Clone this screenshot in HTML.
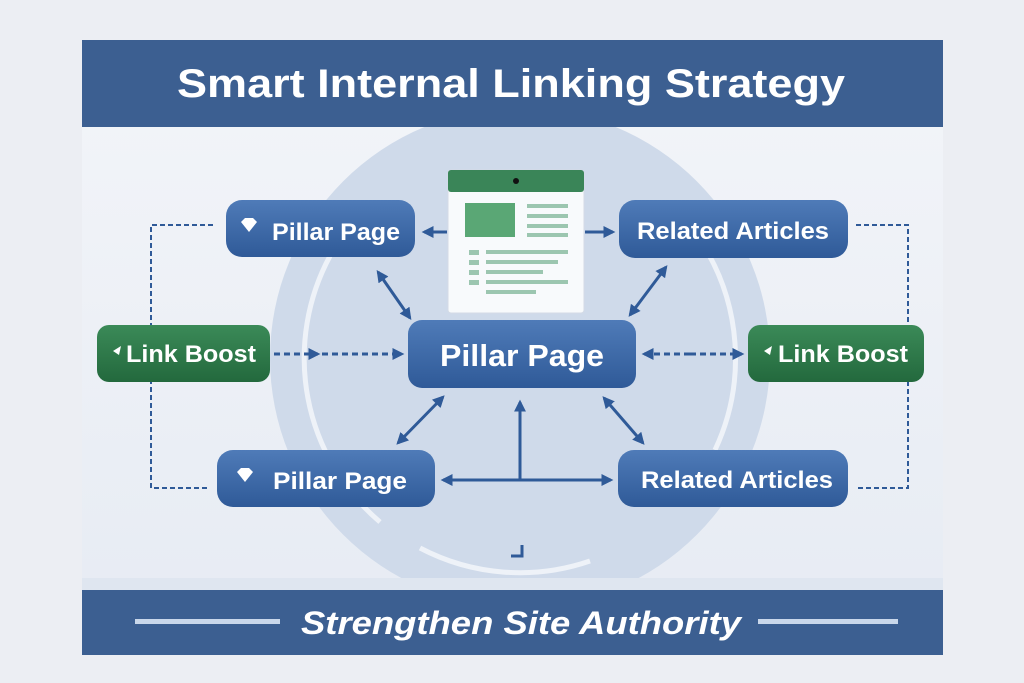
<!DOCTYPE html>
<html><head><meta charset="utf-8"><style>
html,body{margin:0;padding:0;background:#eceef3;}
svg{display:block;font-family:"Liberation Sans",sans-serif;}
</style></head><body>
<svg width="1024" height="683" viewBox="0 0 1024 683" xmlns="http://www.w3.org/2000/svg">
<defs>
<linearGradient id="bl" x1="0" y1="0" x2="0" y2="1"><stop offset="0" stop-color="#4f7bb8"/><stop offset="1" stop-color="#2f5a98"/></linearGradient>
<linearGradient id="gr" x1="0" y1="0" x2="0" y2="1"><stop offset="0" stop-color="#3b8a58"/><stop offset="1" stop-color="#23693d"/></linearGradient>
<linearGradient id="bg" x1="0" y1="0" x2="0" y2="1"><stop offset="0" stop-color="#f3f5f9"/><stop offset="1" stop-color="#e6ebf3"/></linearGradient>
<clipPath id="cc"><rect x="82" y="127" width="861" height="451"/></clipPath>
<marker id="ah" viewBox="0 0 10 10" refX="8" refY="5" markerWidth="4" markerHeight="4" orient="auto-start-reverse"><path d="M0,0L10,5L0,10z" fill="#2f5a98"/></marker>
</defs>
<rect x="82" y="40" width="861" height="615" fill="url(#bg)"/>
<g clip-path="url(#cc)">
<circle cx="520" cy="358" r="250" fill="#cfdaea"/>
<g fill="none" stroke="#eef2f8" stroke-width="5">
<path d="M330,256A215,215 0 0 0 380,522"/>
<path d="M420,548A215,215 0 0 0 590,561"/>
<path d="M700,240A215,215 0 0 1 715,450"/>
</g>
</g>
<rect x="82" y="578" width="861" height="12" fill="#dfe6f0"/>
<rect x="82" y="40" width="861" height="87" fill="#3c5f91"/>
<text x="511" y="97" font-size="40" font-weight="bold" fill="#fff" text-anchor="middle" textLength="668" lengthAdjust="spacingAndGlyphs">Smart Internal Linking Strategy</text>
<rect x="82" y="590" width="861" height="65" fill="#3c5f91"/>
<rect x="135" y="619" width="145" height="5" fill="#c9d7ea"/>
<rect x="758" y="619" width="140" height="5" fill="#c9d7ea"/>
<text x="521" y="634" font-size="32" font-weight="bold" font-style="italic" fill="#fff" text-anchor="middle" textLength="440" lengthAdjust="spacingAndGlyphs">Strengthen Site Authority</text>

<!-- dashed loops -->
<g fill="none" stroke="#2f5a98" stroke-width="2" stroke-dasharray="5 3">
<path d="M213,225H151V488H207"/>
<path d="M856,225H908V488H856"/>
</g>
<g fill="none" stroke="#2f5a98" stroke-width="3" stroke-dasharray="6 4" marker-end="url(#ah)">
<path d="M274,354H318"/><path d="M322,354H402"/>
<path d="M690,354H644"/><path d="M690,354H742"/>
</g>
<g stroke="#2f5a98" stroke-width="3" fill="none" marker-end="url(#ah)">
<path d="M447,232H424"/><path d="M585,232H613"/>
<path d="M378,272L410,318" marker-start="url(#ah)"/>
<path d="M443,397L398,443" marker-start="url(#ah)"/>
<path d="M666,267L630,315" marker-start="url(#ah)"/>
<path d="M604,398L643,443" marker-start="url(#ah)"/>
<path d="M520,480V402"/>
<path d="M520,480H443"/><path d="M520,480H611"/>
</g>
<path d="M522,545V556H511" stroke="#2f5a98" stroke-width="3" fill="none"/>

<!-- document -->
<rect x="448" y="170" width="136" height="143" rx="3" fill="#f8fafc" stroke="#d4dbe6"/>
<rect x="448" y="170" width="136" height="22" rx="3" fill="#3a8558"/>
<circle cx="516" cy="181" r="3" fill="#111"/>
<rect x="465" y="203" width="50" height="34" fill="#5aa775"/>
<g fill="#9cc6b0"><rect x="527" y="204" width="41" height="4"/><rect x="527" y="214" width="41" height="4"/><rect x="527" y="224" width="41" height="4"/><rect x="527" y="233" width="41" height="4"/>
<rect x="469" y="250" width="10" height="5"/><rect x="469" y="260" width="10" height="5"/><rect x="469" y="270" width="10" height="5"/><rect x="469" y="280" width="10" height="5"/>
<rect x="486" y="250" width="82" height="4"/><rect x="486" y="260" width="72" height="4"/><rect x="486" y="270" width="57" height="4"/><rect x="486" y="280" width="82" height="4"/><rect x="486" y="290" width="50" height="4"/></g>

<!-- nodes -->
<g font-weight="bold" fill="#fff">
<rect x="226" y="200" width="189" height="57" rx="16" fill="url(#bl)"/>
<path d="M241,222l4,-4h8l4,4l-8,10z" fill="#fff"/>
<text x="272" y="240" font-size="24" fill="#fff" textLength="128" lengthAdjust="spacingAndGlyphs">Pillar Page</text>
<rect x="619" y="200" width="229" height="58" rx="16" fill="url(#bl)"/>
<text x="733" y="239" font-size="24" fill="#fff" text-anchor="middle" textLength="192" lengthAdjust="spacingAndGlyphs">Related Articles</text>
<rect x="97" y="325" width="173" height="57" rx="12" fill="url(#gr)"/>
<path d="M113,351l8,-5l-2,9z" fill="#fff"/>
<text x="126" y="362" font-size="24" fill="#fff" textLength="130" lengthAdjust="spacingAndGlyphs">Link Boost</text>
<rect x="748" y="325" width="176" height="57" rx="12" fill="url(#gr)"/>
<path d="M764,351l8,-5l-2,9z" fill="#fff"/>
<text x="778" y="362" font-size="24" fill="#fff" textLength="130" lengthAdjust="spacingAndGlyphs">Link Boost</text>
<rect x="408" y="320" width="228" height="68" rx="14" fill="url(#bl)"/>
<text x="522" y="366" font-size="31" fill="#fff" text-anchor="middle" textLength="164" lengthAdjust="spacingAndGlyphs">Pillar Page</text>
<rect x="217" y="450" width="218" height="57" rx="16" fill="url(#bl)"/>
<path d="M237,472l4,-4h8l4,4l-8,10z" fill="#fff"/>
<text x="273" y="489" font-size="24" fill="#fff" textLength="134" lengthAdjust="spacingAndGlyphs">Pillar Page</text>
<rect x="618" y="450" width="230" height="57" rx="16" fill="url(#bl)"/>
<text x="737" y="488" font-size="24" fill="#fff" text-anchor="middle" textLength="192" lengthAdjust="spacingAndGlyphs">Related Articles</text>
</g>
</svg>
</body></html>
